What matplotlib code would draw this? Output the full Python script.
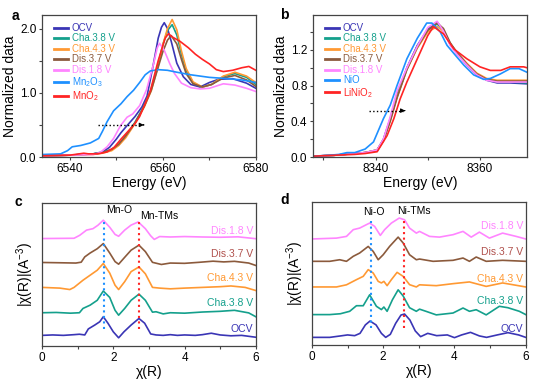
import numpy as np
import matplotlib
matplotlib.use('Agg')
import matplotlib.pyplot as plt
from matplotlib.ticker import MultipleLocator

plt.rcParams['font.family'] = ['Liberation Sans', 'DejaVu Sans']
plt.rcParams['mathtext.default'] = 'regular'

# ---------------- data: Mn K-edge XANES (panel a) ----------------
a_names = ['OCV', 'Cha.3.8 V', 'Cha.4.3 V', 'Dis.3.7 V', 'Dis.1.8 V', 'Mn$_2$O$_3$', 'MnO$_2$']
a_E = [
    [6534, 6540, 6545, 6547, 6548.5, 6550, 6551, 6552.3, 6554, 6555.5, 6556.6, 6558, 6559, 6559.7,
     6560.3, 6561, 6561.8, 6563, 6564.4, 6566, 6568, 6570, 6572, 6575, 6578, 6580],
    [6534, 6540, 6545, 6547, 6549, 6550.5, 6552, 6554, 6556, 6557.5, 6559, 6560, 6561, 6562, 6563,
     6564, 6565, 6566.5, 6568.5, 6570.5, 6573, 6575.5, 6578, 6580],
    [6534, 6540, 6545, 6547, 6549, 6550.5, 6552, 6554, 6556, 6557.5, 6559, 6560, 6561, 6562, 6563,
     6564, 6565, 6566.5, 6568.5, 6570.5, 6573, 6575.5, 6578, 6580],
    [6534, 6540, 6545, 6547, 6549, 6550.5, 6552, 6554, 6556, 6557.5, 6559, 6560, 6561, 6561.8, 6563,
     6564, 6565, 6566.5, 6568.5, 6570.5, 6573, 6575.5, 6578, 6580],
    [6534, 6540, 6545, 6546.5, 6548, 6549.4, 6550.9, 6552.3, 6553.5, 6555, 6556.5, 6558, 6558.8,
     6559.3, 6560.3, 6561.5, 6562.5, 6564, 6566, 6568, 6570, 6573, 6575.5, 6578, 6580],
    [6534, 6538, 6539.5, 6540.5, 6542.3, 6544.4, 6546.2, 6547, 6548, 6549.4, 6551, 6552.3, 6553.7,
     6555, 6556.2, 6557.3, 6559, 6561, 6563, 6566, 6570, 6574, 6577, 6580],
    [6534, 6540, 6542, 6543, 6544, 6546, 6548, 6549.5, 6551, 6552.5, 6554, 6555, 6556, 6557.3,
     6559, 6560.5, 6561.2, 6562, 6563.7, 6565.5, 6567, 6568.5, 6570, 6571.5, 6573, 6575, 6577,
     6578.5, 6580],
]
a_val = [
    [0.02, 0.03, 0.05, 0.08, 0.15, 0.28, 0.38, 0.49, 0.63, 0.78, 0.95, 1.46, 1.85, 2.02,
     2.09, 2.0, 1.8, 1.46, 1.25, 1.13, 1.09, 1.16, 1.21, 1.22, 1.15, 1.07],
    [0.02, 0.03, 0.05, 0.07, 0.12, 0.19, 0.32, 0.54, 0.8, 1.06, 1.45, 1.75, 1.97, 2.06, 1.9,
     1.6, 1.35, 1.15, 1.09, 1.13, 1.25, 1.3, 1.24, 1.13],
    [0.02, 0.03, 0.04, 0.06, 0.1, 0.18, 0.3, 0.52, 0.78, 1.03, 1.42, 1.75, 2.0, 2.14, 1.98,
     1.65, 1.38, 1.17, 1.09, 1.13, 1.26, 1.32, 1.26, 1.16],
    [0.02, 0.03, 0.05, 0.07, 0.12, 0.2, 0.33, 0.53, 0.79, 1.04, 1.4, 1.64, 1.82, 1.89, 1.76,
     1.52, 1.3, 1.14, 1.09, 1.13, 1.23, 1.27, 1.2, 1.1],
    [0.02, 0.03, 0.04, 0.07, 0.16, 0.29, 0.49, 0.62, 0.67, 0.8, 1.05, 1.45, 1.7, 1.77, 1.66,
     1.45, 1.3, 1.15, 1.08, 1.06, 1.07, 1.14, 1.12, 1.07, 1.02],
    [0.04, 0.05, 0.1, 0.16, 0.18, 0.22, 0.29, 0.4, 0.55, 0.72, 0.83, 0.94, 1.04, 1.16, 1.28,
     1.34, 1.36, 1.35, 1.32, 1.28, 1.24, 1.22, 1.2, 1.16],
    [0.02, 0.03, 0.05, 0.06, 0.05, 0.05, 0.08, 0.15, 0.28, 0.4, 0.52, 0.63, 0.8, 1.03,
     1.5, 1.85, 1.92, 1.87, 1.8, 1.7, 1.6, 1.52, 1.45, 1.36, 1.33, 1.35, 1.39, 1.41, 1.35],
]

# ---------------- data: Ni K-edge XANES (panel b) ----------------
b_names = ['OCV', 'Cha.3.8 V', 'Cha.4.3 V', 'Dis.3.7 V', 'Dis.1.8 V', 'NiO', 'LiNiO$_2$']
b_E_cell = [8328, 8332, 8336, 8338, 8340.3, 8341.5, 8342.8, 8344.1, 8346, 8348, 8350, 8351.8,
            8353, 8354.3, 8355.6, 8357.5, 8359.4, 8361.3, 8363.3, 8365.8, 8369]
b_val_cell = [
    [0.01, 0.02, 0.04, 0.05, 0.08, 0.2, 0.43, 0.69, 1.0, 1.25, 1.43, 1.51, 1.42, 1.26, 1.16,
     1.03, 0.92, 0.86, 0.83, 0.83, 0.82],
    [0.01, 0.02, 0.04, 0.05, 0.08, 0.19, 0.42, 0.68, 0.99, 1.24, 1.42, 1.49, 1.42, 1.27, 1.17,
     1.04, 0.93, 0.87, 0.84, 0.84, 0.83],
    [0.01, 0.02, 0.04, 0.05, 0.08, 0.19, 0.41, 0.67, 0.98, 1.22, 1.4, 1.46, 1.41, 1.27, 1.17,
     1.05, 0.94, 0.88, 0.86, 0.86, 0.86],
    [0.01, 0.02, 0.04, 0.05, 0.07, 0.18, 0.4, 0.66, 0.98, 1.23, 1.42, 1.5, 1.44, 1.28, 1.17,
     1.04, 0.93, 0.87, 0.85, 0.85, 0.85],
    [0.01, 0.02, 0.04, 0.05, 0.08, 0.2, 0.45, 0.74, 1.0, 1.24, 1.45, 1.52, 1.41, 1.25, 1.15,
     1.03, 0.92, 0.86, 0.84, 0.84, 0.84],
]
b_E_nio = [8328, 8331, 8333, 8334.5, 8336, 8338, 8339.6, 8341.5, 8342.8, 8344.1, 8346, 8348,
           8349.8, 8350.8, 8352.4, 8353.7, 8355, 8356.9, 8358.8, 8360.7, 8362, 8363.9, 8365.8,
           8367.5, 8369]
b_val_nio = [0.01, 0.02, 0.03, 0.05, 0.05, 0.09, 0.17, 0.43, 0.58, 0.8, 1.1, 1.33, 1.5, 1.5,
             1.4, 1.25, 1.16, 1.03, 0.92, 0.87, 0.88, 0.93, 0.99, 0.99, 0.95]
b_E_lno = [8328, 8332, 8336, 8338, 8340.3, 8342.2, 8343.5, 8344.7, 8346, 8348, 8350, 8351.1,
           8353, 8355, 8357.5, 8360, 8362, 8364, 8365.8, 8368.4, 8369]
b_val_lno = [0.01, 0.02, 0.03, 0.04, 0.06, 0.24, 0.43, 0.65, 0.84, 1.1, 1.36, 1.46, 1.38, 1.21,
             1.1, 1.01, 0.97, 0.97, 1.01, 1.01, 1.0]

# ---------------- data: Mn EXAFS (panel c), stacked, axis fraction ----------------
exafs_names = ['OCV', 'Cha.3.8 V', 'Cha.4.3 V', 'Dis.3.7 V', 'Dis.1.8 V']
c_R = [
    [0, 0.3, 0.6, 0.9, 1.05, 1.2, 1.3, 1.48, 1.62, 1.72, 1.85, 2.0, 2.15, 2.3, 2.5, 2.72, 2.88,
     3.05, 3.2, 3.4, 3.6, 3.8, 4.0, 4.3, 4.5, 4.75, 5.0, 5.3, 5.6, 6.0],
    [0, 0.4, 0.8, 1.05, 1.15, 1.35, 1.55, 1.72, 1.9, 2.05, 2.15, 2.32, 2.5, 2.72, 2.9, 3.1, 3.2,
     3.4, 3.6, 4.0, 4.5, 5.0, 5.4, 5.8, 6.0],
    [0, 0.5, 0.78, 0.9, 1.15, 1.35, 1.55, 1.72, 1.9, 2.05, 2.15, 2.32, 2.5, 2.72, 2.9, 3.1, 3.3,
     3.6, 4.0, 4.5, 5.0, 5.3, 5.7, 6.0],
    [0, 0.5, 0.95, 1.1, 1.2, 1.35, 1.55, 1.72, 1.9, 2.05, 2.15, 2.32, 2.5, 2.72, 2.9, 3.1, 3.35,
     3.6, 4.0, 4.4, 4.8, 5.1, 5.4, 5.8, 6.0],
    [0, 0.9, 1.06, 1.25, 1.43, 1.57, 1.72, 1.9, 2.05, 2.15, 2.32, 2.5, 2.7, 2.9, 3.05, 3.15, 3.3,
     3.6, 4.0, 4.5, 5.0, 5.5, 6.0],
]
c_amp = [
    [0.075, 0.078, 0.075, 0.08, 0.083, 0.078, 0.12, 0.147, 0.17, 0.205, 0.16, 0.1, 0.058, 0.1,
     0.147, 0.193, 0.16, 0.085, 0.078, 0.075, 0.08, 0.075, 0.078, 0.075, 0.08, 0.09, 0.078, 0.072,
     0.075, 0.062],
    [0.233, 0.235, 0.23, 0.233, 0.263, 0.286, 0.32, 0.385, 0.34, 0.25, 0.216, 0.263, 0.32, 0.363,
     0.32, 0.237, 0.24, 0.225, 0.233, 0.23, 0.238, 0.243, 0.25, 0.232, 0.205],
    [0.41, 0.405, 0.395, 0.41, 0.46, 0.495, 0.53, 0.577, 0.51, 0.425, 0.395, 0.45, 0.52, 0.553,
     0.505, 0.41, 0.405, 0.4, 0.405, 0.41, 0.415, 0.42, 0.41, 0.388],
    [0.584, 0.582, 0.58, 0.586, 0.623, 0.65, 0.68, 0.716, 0.65, 0.59, 0.572, 0.62, 0.67, 0.705,
     0.66, 0.585, 0.57, 0.58, 0.578, 0.585, 0.593, 0.588, 0.592, 0.58, 0.563],
    [0.751, 0.753, 0.774, 0.81, 0.82, 0.844, 0.879, 0.83, 0.78, 0.767, 0.81, 0.845, 0.867, 0.82,
     0.77, 0.745, 0.765, 0.762, 0.765, 0.762, 0.76, 0.763, 0.75],
]

# ---------------- data: Ni EXAFS (panel d) ----------------
d_R = [
    [0, 0.5, 0.8, 1.0, 1.2, 1.35, 1.5, 1.63, 1.8, 1.95, 2.07, 2.2, 2.35, 2.5, 2.6, 2.75, 2.9,
     3.05, 3.25, 3.5, 3.8, 4.0, 4.2, 4.45, 4.7, 4.9, 5.2, 5.5, 5.8, 6.0],
    [0, 0.5, 0.8, 1.06, 1.25, 1.44, 1.62, 1.81, 1.95, 2.02, 2.11, 2.26, 2.42, 2.56, 2.74, 2.93,
     3.02, 3.2, 3.49, 3.96, 4.24, 4.42, 4.61, 4.89, 5.26, 5.5, 5.82, 6.0],
    [0, 0.69, 0.97, 1.25, 1.44, 1.58, 1.72, 1.86, 1.95, 2.02, 2.11, 2.23, 2.39, 2.56, 2.74, 2.93,
     3.02, 3.49, 3.96, 4.42, 4.89, 5.35, 6.0],
    [0, 0.5, 0.78, 0.97, 1.16, 1.34, 1.58, 1.72, 1.86, 2.0, 2.18, 2.42, 2.56, 2.74, 2.93, 3.02,
     3.4, 3.96, 4.24, 4.42, 4.61, 4.89, 5.35, 6.0],
    [0, 0.69, 0.97, 1.16, 1.34, 1.53, 1.62, 1.76, 1.92, 2.04, 2.23, 2.45, 2.6, 2.74, 2.93, 3.02,
     3.3, 3.58, 3.96, 4.24, 4.47, 4.7, 4.98, 5.35, 5.73, 6.0],
]
d_amp = [
    [0.053, 0.053, 0.063, 0.07, 0.065, 0.081, 0.14, 0.167, 0.14, 0.081, 0.053, 0.074, 0.151,
     0.209, 0.216, 0.174, 0.098, 0.058, 0.081, 0.065, 0.07, 0.051, 0.07, 0.088, 0.063, 0.053,
     0.07, 0.086, 0.07, 0.053],
    [0.212, 0.212, 0.218, 0.235, 0.274, 0.274, 0.35, 0.27, 0.247, 0.265, 0.235, 0.316, 0.385,
     0.342, 0.26, 0.235, 0.25, 0.235, 0.21, 0.223, 0.258, 0.235, 0.246, 0.21, 0.27, 0.26, 0.235,
     0.212],
    [0.405, 0.405, 0.42, 0.456, 0.479, 0.526, 0.502, 0.444, 0.433, 0.444, 0.414, 0.456, 0.507,
     0.479, 0.421, 0.405, 0.42, 0.414, 0.428, 0.44, 0.409, 0.433, 0.405],
    [0.584, 0.584, 0.595, 0.584, 0.619, 0.642, 0.688, 0.653, 0.595, 0.63, 0.688, 0.753, 0.712,
     0.63, 0.595, 0.6, 0.584, 0.591, 0.607, 0.584, 0.614, 0.584, 0.591, 0.584],
    [0.74, 0.746, 0.758, 0.805, 0.816, 0.84, 0.851, 0.828, 0.765, 0.805, 0.851, 0.886, 0.874,
     0.816, 0.781, 0.793, 0.758, 0.753, 0.77, 0.793, 0.753, 0.788, 0.746, 0.781, 0.758, 0.74],
]

c_peak_R = [1.74, 2.72]
c_peak_names = ['Mn-O', 'Mn-TMs']
d_peak_R = [1.66, 2.58]
d_peak_names = ['Ni-O', 'Ni-TMs']

colors = ['#3a35b5', '#14a08c', '#ff9933', '#8b5a3c', '#ff85ff', '#1e90ff', '#ff2424']
label_colors = ['#3a35b5', '#14a08c', '#ff9933', '#b0504c', '#ff85ff']

fig = plt.figure(figsize=(5.54, 3.85), dpi=100)
ax_a = fig.add_axes([0.0758, 0.592, 0.386, 0.369])
ax_b = fig.add_axes([0.565, 0.592, 0.386, 0.369])
ax_c = fig.add_axes([0.0758, 0.101, 0.386, 0.372])
ax_d = fig.add_axes([0.563, 0.104, 0.386, 0.372])

for ax in [ax_a, ax_b, ax_c, ax_d]:
    for s in ax.spines.values():
        s.set_color('#444444')
        s.set_linewidth(0.9)
    ax.tick_params(which='both', direction='out', length=2.5, width=0.8, labelsize=8.5,
                   pad=1.5, color='#444444')

# panel a
for i in range(len(a_names)):
    ax_a.plot(a_E[i], a_val[i], color=colors[i], lw=1.2, label=a_names[i])
ax_a.set_xlim(6534, 6580)
ax_a.set_ylim(0, 2.21)
ax_a.xaxis.set_major_locator(MultipleLocator(20))
ax_a.xaxis.set_minor_locator(MultipleLocator(10))
ax_a.yaxis.set_major_locator(MultipleLocator(1.0))
ax_a.yaxis.set_minor_locator(MultipleLocator(0.5))
ax_a.yaxis.set_major_formatter(plt.FormatStrFormatter('%.1f'))
ax_a.plot([6546, 6555.5], [0.5, 0.5], color='k', ls=':', lw=1)
ax_a.annotate('', xy=(6556.5, 0.5), xytext=(6555.3, 0.5),
              arrowprops=dict(arrowstyle='-|>', color='k', lw=0.8, mutation_scale=6))

# panel b
for i in range(5):
    ax_b.plot(b_E_cell, b_val_cell[i], color=colors[i], lw=1.2, label=b_names[i])
ax_b.plot(b_E_nio, b_val_nio, color=colors[5], lw=1.2, label=b_names[5])
ax_b.plot(b_E_lno, b_val_lno, color=colors[6], lw=1.2, label=b_names[6])
ax_b.set_xlim(8328, 8369)
ax_b.set_ylim(0, 1.59)
ax_b.xaxis.set_major_locator(MultipleLocator(20))
ax_b.xaxis.set_minor_locator(MultipleLocator(10))
ax_b.yaxis.set_major_locator(MultipleLocator(0.4))
ax_b.yaxis.set_minor_locator(MultipleLocator(0.2))
ax_b.yaxis.set_major_formatter(plt.FormatStrFormatter('%.1f'))
ax_b.plot([8338.7, 8345.2], [0.52, 0.52], color='k', ls=':', lw=1)
ax_b.annotate('', xy=(8346.2, 0.52), xytext=(8345.0, 0.52),
              arrowprops=dict(arrowstyle='-|>', color='k', lw=0.8, mutation_scale=6))

for ax in [ax_a, ax_b]:
    leg = ax.legend(loc='upper left', bbox_to_anchor=(0.03, 0.985), frameon=False, fontsize=7,
                    handlelength=1.4, handletextpad=0.4, labelspacing=0.05, borderaxespad=0.2)
    for t, ln in zip(leg.get_texts(), leg.get_lines()):
        t.set_color(ln.get_color())
        ln.set_linewidth(2)
    ax.set_xlabel('Energy (eV)', fontsize=10, labelpad=1)
    ax.set_ylabel('Normalized data', fontsize=10, labelpad=2)

# panels c, d
for ax, R, amp, pk, pkn, lab_y in [
        (ax_c, c_R, c_amp, c_peak_R, c_peak_names, [0.121, 0.3, 0.474, 0.64, 0.807]),
        (ax_d, d_R, d_amp, d_peak_R, d_peak_names, [0.11, 0.31, 0.46, 0.65, 0.83])]:
    for i in range(5):
        ax.plot(R[i], amp[i], color=colors[i], lw=1.2)
        ax.text(5.92, lab_y[i], exafs_names[i], color=label_colors[i], fontsize=7.5,
                ha='right', va='center')
    ax.plot([pk[0], pk[0]], [0.12, 0.877], color='#1e90ff', ls=':', lw=1.5)
    ax.plot([pk[1], pk[1]], [0.12, 0.875], color='#ff2424', ls=':', lw=1.5)
    ax.set_xlim(0, 6)
    ax.set_ylim(0, 1)
    ax.set_yticks([])
    ax.xaxis.set_major_locator(MultipleLocator(2))
    ax.xaxis.set_minor_locator(MultipleLocator(1))
    ax.set_xlabel('χ(R)', fontsize=10, labelpad=1)
    ax.set_ylabel('|χ(R)|(A$^{-3}$)', fontsize=10, labelpad=4)

ax_c.text(1.81, 0.947, c_peak_names[0], fontsize=7.5, ha='left', va='center')
ax_c.text(2.74, 0.907, c_peak_names[1], fontsize=7.5, ha='left', va='center')
ax_d.text(1.74, 0.93, d_peak_names[0], fontsize=7.5, ha='center', va='center')
ax_d.text(2.85, 0.935, d_peak_names[1], fontsize=7.5, ha='center', va='center')

# panel letters
for lt, x, y in [('a', 15, 16), ('b', 284, 15), ('c', 18, 202), ('d', 285, 200)]:
    fig.text(x / 554, 1 - y / 385, lt, fontsize=10, fontweight='bold', ha='center', va='center')

fig.savefig('out.png', dpi=100)
